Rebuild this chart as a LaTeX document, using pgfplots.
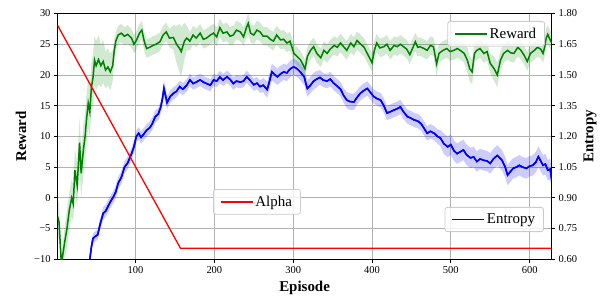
\documentclass[border=0pt]{standalone}
\usepackage{fontspec}
\setmainfont{Liberation Serif}
\usepackage{pgfplots}
\pgfplotsset{compat=1.18}
\usepgfplotslibrary{fillbetween}
\usepackage{pgfplotstable}

\pgfplotstableread{
ep r h
1 -3 3
3 -4 3
6 -11 2
8 -9 2
10 -7.3 2.5
13 -5 3
16 -2 3
19 0 3
21 -1 3
23 4.5 3.5
26 2 3.5
29 9 4
31 4 4
34 8 4
36 10 4
38 13 4
40 15.4 4
42 14 4
44 18 4
46 19.5 4
48 22.4 4
50 21.5 4
53 22.5 4
56 21.5 3.5
59 22.2 3.5
62 20.8 3
65 21.3 3
68 20.5 3
71 21.5 2.5
73 24 2
75 25.5 1.5
78 26.5 1.5
82 26.8 1.5
86 26.3 1.5
90 26.6 1.5
95 26 1.5
98 25 1.5
101 25.6 1.5
105 26.8 1.5
108 27.3 1.5
111 25.5 1.5
114 24.3 1.5
118 24.5 1.5
122 24.8 1.5
126 25 1.5
131 25.4 1.5
135 26.5 1.5
139 27 1.5
143 26 1.5
148 26.1 2
152 25 3
156 24.3 4
158 23.8 4
162 25.5 3
165 26 2
169 25.5 1.5
173 26.5 1.5
177 26 1.5
182 26.8 1.5
186 25.8 1.5
190 26 1.5
195 26.5 1.5
199 26.8 1.5
203 26.2 1.5
207 27.7 1.5
211 26.8 1.5
216 27 1.5
220 26.3 1.5
224 26.5 1.5
228 27.3 1.5
233 27 1.5
237 26.2 1.5
241 27.8 1.5
243 28.4 1.8
246 26.8 1.5
250 26.5 1.5
254 27.3 1.5
258 27 1.5
262 26.3 1.5
267 26.3 1.5
271 25.8 1.5
275 25.5 1.5
279 26.5 1.5
284 25.7 1.5
288 25.8 1.5
292 25.2 1.5
296 25.5 1.5
301 23.5 1.5
305 23 1.5
309 22.5 1.5
312 21.8 1.5
315 21 1.5
318 23 1.5
322 24 1.5
326 24.6 1.5
330 23.5 1.5
335 22.8 1.5
339 24 1.5
343 23.5 1.5
347 24.2 1.5
352 24.8 1.5
356 24.5 1.5
360 25.2 1.5
364 24.6 1.5
368 24 1.5
373 25.2 1.5
377 24.6 1.5
381 25.6 1.5
385 25.1 1.5
390 24.5 1.5
394 23.5 1.5
398 22.5 1.5
400 22 1.5
403 24 1.5
406 25.2 1.5
410 24.4 1.5
415 24.6 1.5
419 25 1.5
423 24 1.5
428 24.8 1.5
432 24.6 1.5
436 25 1.5
440 24.6 1.5
444 24.2 1.5
448 23.3 1.5
452 24.5 1.5
455 25.4 1.5
458 24.5 1.5
461 24.6 1.5
466 24.3 1.5
470 24 1.5
474 24.8 1.5
478 24.6 1.5
482 21.8 2
485 23.5 1.5
490 24 1.5
495 24.3 1.5
499 23.8 1.5
504 24 1.5
508 24.3 1.5
512 24 1.5
517 23.5 1.5
521 22.4 2
524 21 2
527 20.5 2
530 23.5 1.5
533 24 1.5
537 24.3 1.5
542 23.5 1.5
546 23.8 1.5
550 21.9 1.5
555 21 2
559 20 2
563 22.4 1.5
567 23.5 1.5
572 24 1.5
576 23.6 1.5
580 23.5 1.5
585 24.5 1.5
589 24 1.5
593 23.2 1.5
597 22.2 1.5
601 23.5 1.5
606 24 1.5
610 24.5 1.5
614 24.2 1.5
617 23.5 1.5
619 24.5 1.5
621 26 1.5
623 26.6 1.5
625 26 1.5
628 25.2 1.5
}\greendata

\pgfplotstableread{
ep e h
42 0.600 0.02
44 0.660 0.02
46 0.702 0.025
49 0.712 0.025
52 0.720 0.025
55 0.770 0.025
59 0.825 0.03
62 0.835 0.03
65 0.858 0.03
68 0.880 0.03
72 0.906 0.03
75 0.930 0.03
78 0.972 0.03
82 1.000 0.03
86 1.050 0.03
90 1.070 0.03
95 1.116 0.03
98 1.150 0.03
101 1.200 0.03
104 1.215 0.03
107 1.195 0.03
110 1.209 0.03
114 1.230 0.03
118 1.242 0.03
121 1.260 0.03
125 1.296 0.03
129 1.310 0.03
132 1.344 0.03
134 1.380 0.03
136 1.434 0.04
138 1.400 0.04
140 1.365 0.03
144 1.395 0.03
148 1.410 0.03
152 1.420 0.03
156 1.443 0.03
160 1.430 0.03
165 1.450 0.03
169 1.476 0.03
173 1.458 0.03
177 1.465 0.03
182 1.476 0.03
186 1.465 0.03
190 1.458 0.03
195 1.450 0.03
199 1.476 0.03
203 1.470 0.03
207 1.490 0.03
211 1.475 0.03
216 1.491 0.03
220 1.478 0.03
224 1.458 0.03
228 1.470 0.03
233 1.465 0.03
237 1.470 0.03
241 1.491 0.03
245 1.475 0.03
250 1.452 0.03
254 1.460 0.03
258 1.443 0.03
262 1.450 0.035
267 1.428 0.04
270 1.470 0.04
273 1.515 0.04
277 1.500 0.04
280 1.491 0.04
284 1.505 0.04
288 1.515 0.04
292 1.510 0.04
295 1.524 0.04
298 1.535 0.04
301 1.539 0.04
305 1.530 0.04
309 1.515 0.04
312 1.500 0.04
314 1.491 0.04
316 1.460 0.04
318 1.434 0.04
322 1.450 0.04
326 1.470 0.04
330 1.480 0.04
334 1.488 0.035
338 1.475 0.035
343 1.470 0.035
347 1.480 0.035
351 1.461 0.035
356 1.445 0.035
360 1.431 0.035
364 1.400 0.035
368 1.377 0.04
372 1.370 0.04
377 1.368 0.04
381 1.390 0.035
385 1.410 0.035
390 1.425 0.035
394 1.434 0.035
398 1.415 0.035
402 1.395 0.035
406 1.385 0.035
411 1.377 0.035
415 1.350 0.035
419 1.314 0.035
423 1.320 0.035
428 1.329 0.035
432 1.335 0.035
436 1.344 0.035
440 1.320 0.035
445 1.296 0.035
449 1.290 0.035
453 1.281 0.035
458 1.275 0.035
462 1.263 0.035
466 1.240 0.035
470 1.215 0.035
474 1.225 0.035
479 1.215 0.035
483 1.200 0.035
487 1.191 0.04
491 1.165 0.05
496 1.149 0.05
500 1.160 0.05
504 1.130 0.05
508 1.116 0.05
512 1.125 0.05
516 1.134 0.05
520 1.110 0.05
525 1.095 0.05
529 1.100 0.05
533 1.077 0.05
537 1.090 0.05
542 1.083 0.05
546 1.080 0.05
550 1.068 0.05
554 1.090 0.05
559 1.107 0.05
562 1.095 0.05
565 1.083 0.05
569 1.050 0.05
572 1.011 0.05
576 1.030 0.05
579 1.044 0.05
583 1.050 0.05
587 1.059 0.05
591 1.050 0.05
596 1.044 0.05
600 1.055 0.05
604 1.059 0.05
608 1.075 0.05
611 1.101 0.05
614 1.080 0.05
617 1.059 0.05
620 1.065 0.05
623 1.035 0.05
626 1.040 0.05
628 0.987 0.05
}\bluedata

\definecolor{mplgreen}{RGB}{0,128,0}
\definecolor{mplblue}{RGB}{0,0,255}
\definecolor{mplred}{RGB}{255,0,0}

\pgfplotsset{
  common/.style={
    width=494.2bp, height=245.8bp, scale only axis,
    xmin=1, xmax=628,
    axis line style={line width=0.8bp, black},
    tick style={line width=0.8bp, black},
    tick align=outside, major tick length=3.5bp,
    ticklabel style={font=\fontsize{10.5}{12}\selectfont},
    legend style={font=\fontsize{15}{18}\selectfont, draw=black!20, line width=0.8bp,
      rounded corners=2.5bp, fill=white, fill opacity=0.8, text opacity=1,
      inner xsep=6.5bp, inner ysep=4.5bp, cells={anchor=west},
      /tikz/every even column/.append style={column sep=10bp}},
  },
}

\begin{document}
\begin{tikzpicture}
\begin{axis}[common,
  ymin=-10, ymax=30,
  xtick={100,200,300,400,500,600},
  xticklabels={100,200,300,400,500,600},
  ytick={-10,-5,0,5,10,15,20,25,30},
  yticklabels={−10,−5,0,5,10,15,20,25,30},
  xtick pos=bottom, ytick pos=left,
  grid=major, grid style={line width=0.8bp, black!30},
  xlabel={Episode}, ylabel={Reward},
  xlabel style={font=\fontsize{15}{18}\selectfont\bfseries, at={(axis description cs:0.5,-0.131)}, anchor=base},
  ylabel style={font=\fontsize{15}{18}\selectfont\bfseries, at={(axis description cs:-0.074,0.5)}, anchor=center},
  legend style={at={(axis description cs:0.9865,0.9695)}, anchor=north east},
  legend image code/.code={\draw[mplgreen, line width=1.5bp] (0bp,0bp) -- (32bp,0bp);},
]
\addplot[name path=gu, draw=none, forget plot] table[x=ep, y expr=\thisrow{r}+\thisrow{h}]{\greendata};
\addplot[name path=gl, draw=none, forget plot] table[x=ep, y expr=\thisrow{r}-\thisrow{h}]{\greendata};
\addplot[mplgreen, fill opacity=0.18, draw=none, forget plot] fill between[of=gu and gl];
\addplot[mplgreen, line width=1.5bp] table[x=ep, y=r]{\greendata};
\addlegendentry{Reward}
\end{axis}

\begin{axis}[common,
  ymin=0.6, ymax=1.8,
  hide x axis, axis y line*=right,
  ytick={0.6,0.75,0.9,1.05,1.2,1.35,1.5,1.65,1.8},
  yticklabels={0.60,0.75,0.90,1.05,1.20,1.35,1.50,1.65,1.80},
  ylabel={Entropy},
  ylabel style={font=\fontsize{15}{18}\selectfont\bfseries, at={(axis description cs:1.0775,0.5)}, anchor=center},
]
\addplot[name path=bu, draw=none, forget plot] table[x=ep, y expr=\thisrow{e}+\thisrow{h}]{\bluedata};
\addplot[name path=bl, draw=none, forget plot] table[x=ep, y expr=\thisrow{e}-\thisrow{h}]{\bluedata};
\addplot[mplblue, fill opacity=0.2, draw=none, forget plot] fill between[of=bu and bl];
\addplot[mplblue, line width=1.5bp, forget plot] table[x=ep, y=e]{\bluedata};
\end{axis}

\begin{axis}[common,
  ymin=0.6, ymax=1.8, hide axis,
  legend style={at={(axis description cs:0.9844,0.111)}, anchor=south east},
  legend image code/.code={\draw[mplblue, line width=1.5bp] (0bp,0bp) -- (32bp,0bp);},
]
\addplot[mplblue, line width=1.5bp] table[x=ep, y=e]{\bluedata};
\addlegendentry{Entropy}
\end{axis}

\begin{axis}[common,
  ymin=-10, ymax=30, hide axis,
  legend style={at={(axis description cs:0.3147,0.286)}, anchor=north west},
  legend image code/.code={\draw[mplred, line width=1.5bp] (0bp,0bp) -- (32bp,0bp);},
]
\addplot[mplred, line width=1.3bp] coordinates {(1,28.1) (157,-8.2) (628,-8.2)};
\addlegendentry{Alpha}
\end{axis}
\pgfresetboundingbox
\path[use as bounding box] (-57.5bp,-37.7bp) rectangle (542.5bp,259.3bp);
\end{tikzpicture}
\end{document}
